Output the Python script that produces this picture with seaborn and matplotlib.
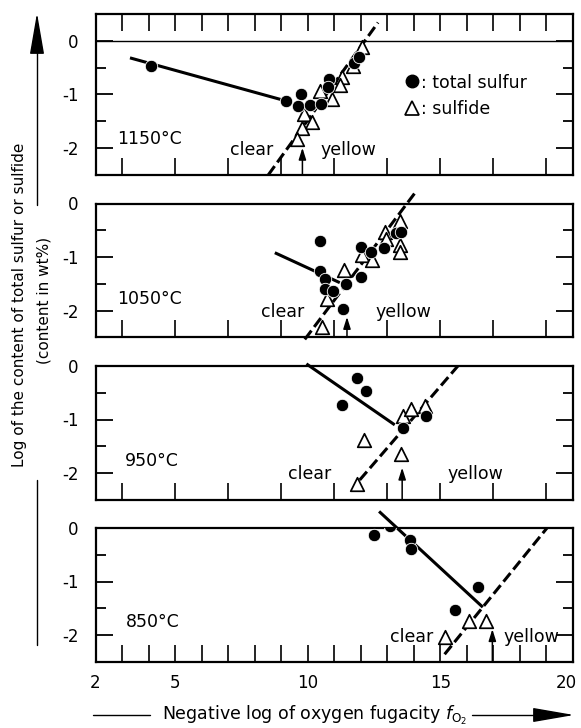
import matplotlib
matplotlib.use("Agg")
import seaborn as sns
import matplotlib.pyplot as plt
import matplotlib.transforms as mtransforms
from matplotlib.lines import Line2D

# temperatures of the four runs
temps = ["1150°C", "1050°C", "950°C", "850°C"]

# total sulfur (filled circles)
tot_x_1150 = [4.1, 9.2, 9.75, 9.65, 10.1, 10.5, 10.8, 10.75, 11.75, 11.95]
tot_y_1150 = [-0.48, -1.13, -0.99, -1.22, -1.2, -1.18, -0.72, -0.86, -0.42, -0.3]
tot_x_1050 = [10.45, 10.47, 10.64, 10.64, 10.96, 11.43, 11.33, 11.99, 11.99, 12.4, 12.87, 13.32, 13.53]
tot_y_1050 = [-0.71, -1.27, -1.42, -1.59, -1.64, -1.5, -1.97, -1.37, -0.82, -0.9, -0.84, -0.56, -0.54]
tot_x_950 = [11.84, 12.19, 11.3, 13.6, 14.47]
tot_y_950 = [-0.23, -0.46, -0.73, -1.15, -0.93]
tot_x_850 = [12.49, 13.09, 13.87, 13.91, 16.42, 15.54]
tot_y_850 = [-0.13, 0.03, -0.23, -0.39, -1.11, -1.54]

# sulfide (open triangles)
sul_x_1150 = [12.05, 11.7, 11.3, 11.2, 10.45, 10.9, 9.85, 10.15, 9.8, 9.6]
sul_y_1150 = [-0.12, -0.48, -0.67, -0.82, -0.93, -1.09, -1.37, -1.52, -1.63, -1.83]
sul_x_1050 = [13.47, 12.9, 12.94, 13.47, 13.47, 12.03, 12.44, 11.36, 10.73, 10.52]
sul_y_1050 = [-0.32, -0.53, -0.66, -0.77, -0.9, -0.97, -1.06, -1.25, -1.78, -2.31]
sul_x_950 = [13.6, 13.91, 14.41, 12.12, 13.53, 11.84]
sul_y_950 = [-0.93, -0.81, -0.74, -1.38, -1.64, -2.21]
sul_x_850 = [15.16, 16.08, 16.71]
sul_y_850 = [-2.03, -1.73, -1.73]

# fitted total sulfur lines (solid) and sulfide lines (dashed), end points
solid_x = [[3.3, 9.0], [8.76, 11.21], [9.95, 13.28], [12.69, 16.6]]
solid_y = [[-0.32, -1.1], [-0.92, -1.48], [0.04, -1.1], [0.31, -1.48]]
dash_x = [[8.51, 12.65], [9.89, 14.03], [11.96, 15.66], [15.16, 19.02]]
dash_y = [[-2.51, 0.34], [-2.54, 0.19], [-2.13, 0.0], [-2.36, 0.0]]

# clear / yellow transition (arrows)
trans_x = [9.8, 11.48, 13.56, 16.96]
trans_top = [-2.0, -2.12, -1.9, -1.89]

tot_x = [tot_x_1150, tot_x_1050, tot_x_950, tot_x_850]
tot_y = [tot_y_1150, tot_y_1050, tot_y_950, tot_y_850]
sul_x = [sul_x_1150, sul_x_1050, sul_x_950, sul_x_850]
sul_y = [sul_y_1150, sul_y_1050, sul_y_950, sul_y_850]

sns.set_style("ticks")
plt.rcParams["font.family"] = ["DejaVu Sans"]
plt.rcParams["mathtext.fontset"] = "dejavusans"
plt.rcParams["text.color"] = "black"
plt.rcParams["axes.edgecolor"] = "black"
plt.rcParams["xtick.color"] = "black"
plt.rcParams["ytick.color"] = "black"
plt.rcParams["xtick.labelcolor"] = "black"
plt.rcParams["ytick.labelcolor"] = "black"

W, H = 581, 728
fig = plt.figure(figsize=(W / 100, H / 100), dpi=100)

left = 95.5 / W
width = (573 - 95.5) / W
boxes = [(14, 174.5), (203.5, 337.25), (366, 499.75), (528, 661.75)]
ylims = [(-2.5, 0.5), (-2.5, 0), (-2.5, 0), (-2.5, 0)]

# label positions in data units
clear_pos = [(7.87, -2.05), (9.05, -2.03), (10.08, -2.02), (13.93, -2.04)]
yellow_pos = [(11.52, -2.05), (13.6, -2.03), (16.32, -2.02), (18.43, -2.04)]
temp_pos = [(2.8, -1.83), (2.8, -1.78), (3.1, -1.77), (3.15, -1.76)]

axes = []
for i in range(4):
    top, bot = boxes[i]
    ax = fig.add_axes([left, 1 - bot / H, width, (bot - top) / H])
    axes.append(ax)
    ax.set_xlim(2, 20)
    ax.set_ylim(*ylims[i])

    ax.plot(solid_x[i], solid_y[i], color="k", lw=2.2, solid_capstyle="butt",
            clip_on=False, zorder=2)
    ax.plot(dash_x[i], dash_y[i], color="k", lw=2.2, dashes=(3.6, 1.5),
            dash_capstyle="butt", clip_on=False, zorder=2)

    sns.scatterplot(x=sul_x[i], y=sul_y[i], marker="^", s=95, color="white",
                    edgecolor="black", linewidth=1.25, ax=ax, zorder=3, legend=False)
    sns.scatterplot(x=tot_x[i], y=tot_y[i], marker="o", s=80, color="black",
                    edgecolor="white", linewidth=0.6, ax=ax, zorder=4, legend=False)

    ax.annotate("", xy=(trans_x[i], trans_top[i]), xytext=(trans_x[i], ylims[i][0]),
                arrowprops=dict(arrowstyle="-|>,head_length=0.7,head_width=0.22",
                                lw=1.1, color="k", shrinkA=0, shrinkB=0))

    ax.text(*clear_pos[i], "clear", ha="center", va="center", fontsize=12.5)
    ax.text(*yellow_pos[i], "yellow", ha="center", va="center", fontsize=12.5)
    ax.text(*temp_pos[i], temps[i], ha="left", va="center", fontsize=12.5)

    for sp in ax.spines.values():
        sp.set_linewidth(1.6)
        sp.set_visible(True)
        sp.set_color("black")

    ax.set_yticks([0, -1, -2])
    ax.set_yticklabels(["0", "-1", "-2"])
    ax.set_yticks([-0.5, -1.5], minor=True)
    ax.tick_params(axis="y", which="both", direction="in", left=True, right=True,
                   labelsize=12, pad=12, width=1.3, colors="black")
    ax.tick_params(axis="y", which="major", length=12)
    ax.tick_params(axis="y", which="minor", length=7)

    if i == 3:
        ax.set_xticks(range(2, 21))
        ax.set_xticklabels([str(v) if v in (2, 5, 10, 15, 20) else "" for v in range(2, 21)])
        ax.tick_params(axis="x", which="major", direction="in", bottom=True, top=False,
                       length=12, width=1.2, labelsize=12, pad=9, colors="black")
        # keep the last label inside the picture
        shift = mtransforms.ScaledTranslation(-5 / 72, 0, fig.dpi_scale_trans)
        lab20 = ax.get_xticklabels()[-1]
        lab20.set_transform(lab20.get_transform() + shift)
    else:
        ax.set_xticks(range(3, 20, 2))
        ax.set_xticklabels([])
        ax.tick_params(axis="x", which="major", direction="in", bottom=True,
                       top=(i == 0), length=12, width=1.2, colors="black")
        if i == 0:
            ax.set_xticks(range(4, 19, 2), minor=True)
            ax.tick_params(axis="x", which="minor", direction="in", bottom=False,
                           top=True, length=12, width=1.2, colors="black")
    ax.set_xlabel("")
    ax.set_ylabel("")

# zero line in the top panel
axes[0].axhline(0, color="k", lw=1.0, zorder=1)

# legend of the top panel
handles = [Line2D([], [], marker="o", ls="", color="k", ms=9),
           Line2D([], [], marker="^", ls="", mfc="white", mec="k", mew=1.25, ms=10)]
axes[0].legend(handles, [": total sulfur", ": sulfide"], loc="center left",
               bbox_to_anchor=(0.648, 0.49), frameon=False, handlelength=0.8,
               handletextpad=0.1, borderpad=0, borderaxespad=0, labelspacing=0.5,
               fontsize=12.5, labelcolor="black")

# x axis caption with line and arrow
fig.text(162 / W, 1 - 715 / H, r"Negative log of oxygen fugacity $f_{\mathrm{O_2}}$",
         ha="left", va="center", fontsize=12.5)
fig.add_artist(Line2D([93 / W, 150 / W], [1 - 715 / H, 1 - 715 / H], color="k", lw=1.0))
fig.add_artist(Line2D([472 / W, 545 / W], [1 - 715 / H, 1 - 715 / H], color="k", lw=1.0))
plt.annotate("", xy=(574, H - 715), xytext=(535, H - 715), xycoords="figure pixels",
             textcoords="figure pixels",
             arrowprops=dict(arrowstyle="-|>,head_length=2.6,head_width=0.45",
                             mutation_scale=10, lw=1.0, color="k",
                             shrinkA=0, shrinkB=0))

# y axis caption with arrow
fig.text(20 / W, 1 - 305 / H, "Log of the content of total sulfur or sulfide",
         rotation=90, ha="center", va="center", fontsize=11)
fig.text(44 / W, 1 - 300 / H, "(content in wt%)", rotation=90, ha="center",
         va="center", fontsize=11)
fig.add_artist(Line2D([37 / W, 37 / W], [1 - 205 / H, 1 - 45 / H], color="k", lw=1.0))
plt.annotate("", xy=(37, H - 13), xytext=(37, H - 50), xycoords="figure pixels",
             textcoords="figure pixels",
             arrowprops=dict(arrowstyle="-|>,head_length=2.6,head_width=0.45",
                             mutation_scale=10, lw=1.0, color="k",
                             shrinkA=0, shrinkB=0))
fig.add_artist(Line2D([37 / W, 37 / W], [1 - 480 / H, 1 - 645 / H], color="k", lw=1.0))

fig.savefig("out.png", dpi=100)
